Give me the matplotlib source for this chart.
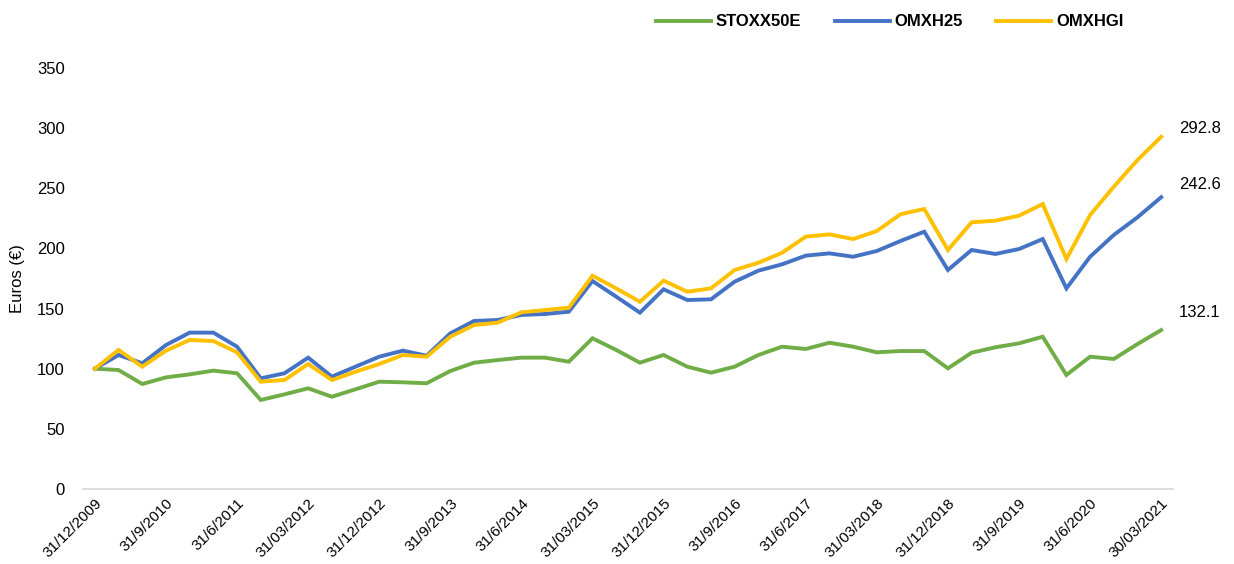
import numpy as np
import matplotlib
matplotlib.use("Agg")
import matplotlib.pyplot as plt

plt.rcParams['font.family'] = ['Liberation Sans', 'DejaVu Sans']

# quarterly values, 31/12/2009 .. 30/03/2021
tick_labels = ["31/12/2009", "31/9/2010", "31/6/2011", "31/03/2012", "31/12/2012",
               "31/9/2013", "31/6/2014", "31/03/2015", "31/12/2015", "31/9/2016",
               "31/6/2017", "31/03/2018", "31/12/2018", "31/9/2019", "31/6/2020",
               "30/03/2021"]

stoxx50e = [100, 98.9, 87.3, 92.8, 95.3, 98.4, 96.2, 74.0, 78.7, 83.7, 76.7, 82.9,
            89.2, 88.7, 87.9, 98.1, 105.0, 107.2, 109.2, 109.2, 105.8, 125.3, 115.6,
            105.0, 111.4, 101.7, 96.7, 101.7, 111.4, 118.3, 116.4, 121.6, 118.3, 113.6,
            114.7, 114.7, 100.3, 113.3, 117.8, 121.1, 126.6, 94.8, 110.0, 108.1, 120.5,
            132.1]
omxh25 = [100, 111.4, 104.5, 119.7, 130.0, 130.0, 118.3, 92.0, 96.2, 109.2, 93.4, 101.7,
          110.0, 115.0, 110.8, 129.4, 139.7, 140.5, 144.7, 145.5, 147.4, 172.9, 159.9,
          146.6, 166.0, 157.1, 157.7, 172.4, 181.5, 186.8, 194.0, 195.9, 193.1, 197.9,
          206.2, 213.9, 182.1, 198.7, 195.4, 199.5, 207.8, 166.8, 193.1, 211.2, 225.9,
          242.6]
omxhgi = [100, 115.6, 101.7, 115.0, 123.9, 123.0, 113.6, 89.2, 90.6, 103.9, 90.6, 97.5,
          103.9, 111.4, 110.0, 126.6, 136.3, 138.3, 146.9, 148.8, 150.7, 177.3, 166.8,
          155.7, 173.2, 164.0, 166.8, 182.1, 188.1, 196.4, 209.8, 211.7, 207.8, 214.5,
          228.4, 232.8, 198.7, 221.7, 223.1, 227.2, 236.9, 191.2, 227.8, 251.3, 273.5,
          292.8]

series = [("STOXX50E", stoxx50e, "#70AD47"),
          ("OMXH25", omxh25, "#4472C4"),
          ("OMXHGI", omxhgi, "#FFC000")]
label_offsets = [13, 9, 6]   # vertical nudge of end labels, points

fig = plt.figure(figsize=(12.34, 5.64), dpi=100)
ax = fig.add_axes([0.0673, 0.133, 0.8833, 0.7464])

x = np.arange(len(stoxx50e))
for (name, vals, col), dy in zip(series, label_offsets):
    ax.plot(x, vals, color=col, lw=2.8, label=name, solid_joinstyle='miter')
    ax.annotate(f"{vals[-1]:.1f}", (x[-1], vals[-1]), xytext=(13, dy),
                textcoords='offset points', ha='left', va='center', fontsize=12)

ax.set_xlim(-0.5, len(x) - 0.5)
ax.set_ylim(0, 350)
ax.set_yticks(np.arange(0, 351, 50))
ax.set_xticks(x[::3])
ax.set_xticklabels(tick_labels, rotation=45, ha='right', va='top',
                   rotation_mode='anchor', fontsize=11)
ax.tick_params(axis='both', length=0, labelsize=12)
ax.tick_params(axis='x', pad=5, labelsize=11)
ax.tick_params(axis='y', pad=13)

for s in ['top', 'right', 'left']:
    ax.spines[s].set_visible(False)
ax.spines['bottom'].set_color('#D9D9D9')
ax.spines['bottom'].set_linewidth(1.3)

ax.set_ylabel("Euros (€)", fontsize=12, labelpad=9)

fig.legend(loc='center', bbox_to_anchor=(0.721, 0.961), ncol=3, frameon=False,
           prop={'weight': 'bold', 'size': 12}, handlelength=3.3,
           handletextpad=0.3, columnspacing=2.0)

fig.savefig("out.png", dpi=100)
